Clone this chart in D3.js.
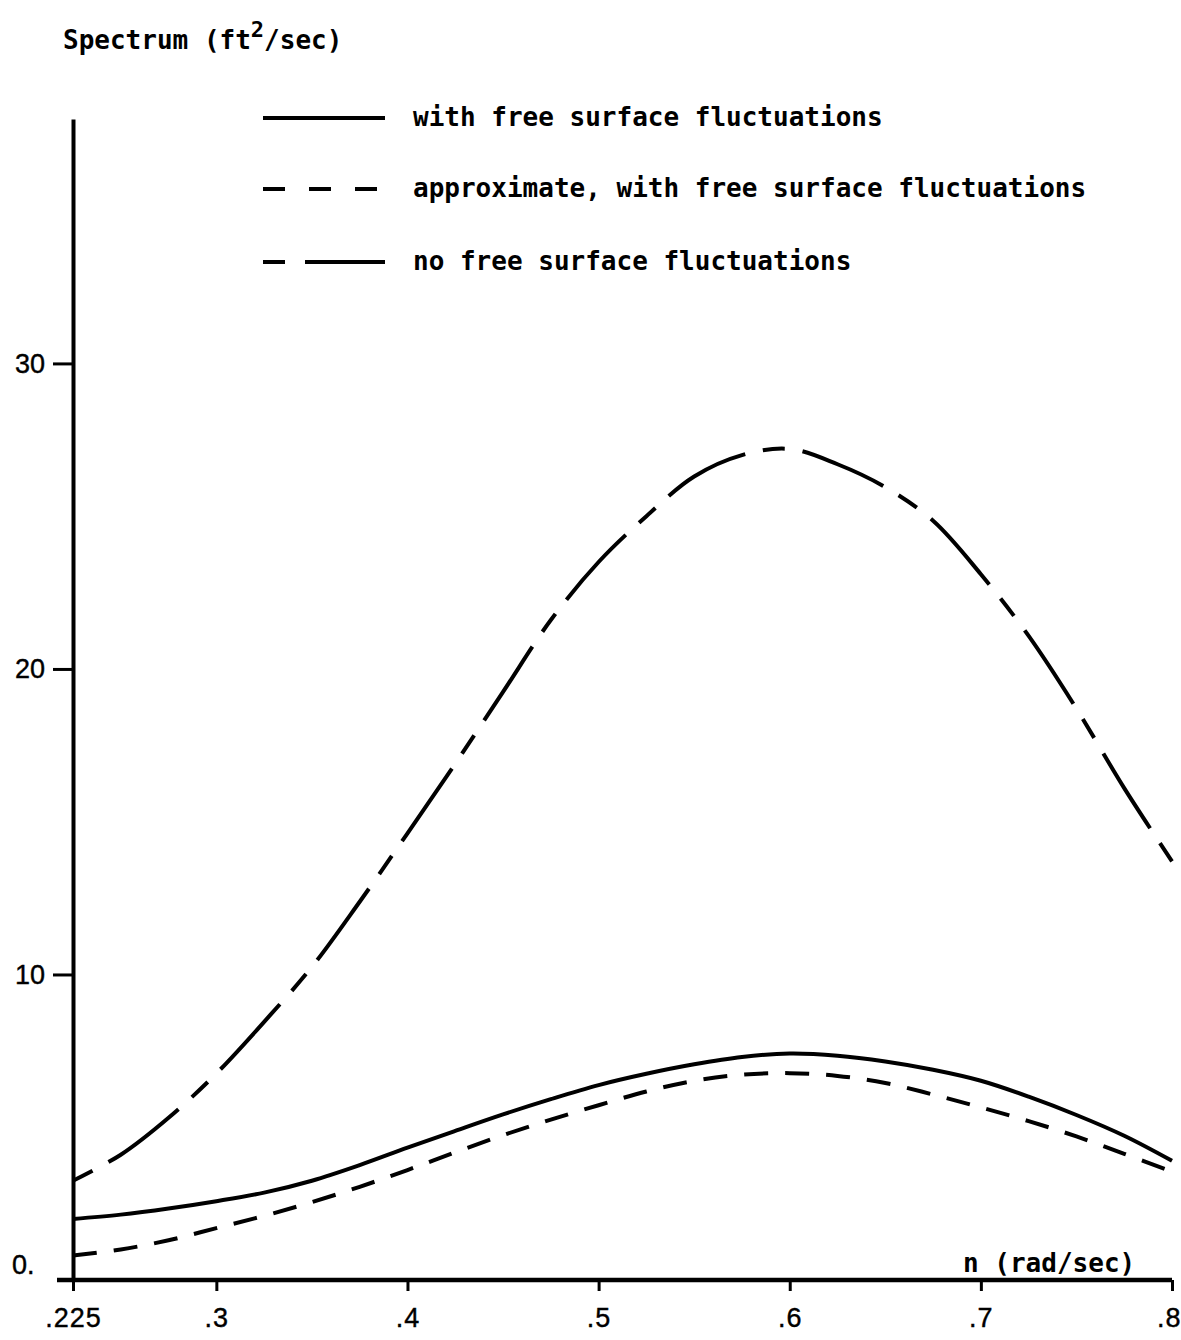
<!DOCTYPE html>
<html>
<head>
<meta charset="utf-8">
<script src="https://cdn.jsdelivr.net/npm/d3@7"></script>
<style>
  body { margin: 0; background: #fff; }
  svg { display: block; }
  .mono { font-family: "DejaVu Sans Mono", monospace; font-weight: bold; font-size: 26px; }
  .tick text, .num { font-family: "Liberation Sans", Arial, sans-serif; font-size: 27px; fill: #000; stroke: #000; stroke-width: 0.4px; }
</style>
</head>
<body>
<svg id="chart" width="1181" height="1340"></svg>
<script>
// frequency n (rad/sec)
const freqs = [0.225, 0.25, 0.275, 0.3, 0.325, 0.35, 0.375, 0.4, 0.425, 0.45, 0.475, 0.5,
               0.525, 0.55, 0.575, 0.6, 0.625, 0.65, 0.675, 0.7, 0.725, 0.75, 0.775, 0.8];

// spectrum, with free surface fluctuations
const withFree = [2.0, 2.14, 2.34, 2.58, 2.86, 3.25, 3.76, 4.33, 4.88, 5.42, 5.92, 6.38,
                  6.75, 7.06, 7.3, 7.41, 7.34, 7.15, 6.88, 6.52, 6.0, 5.4, 4.72, 3.9];

// approximate, with free surface fluctuations
const approxFree = [0.8, 1.0, 1.3, 1.7, 2.1, 2.55, 3.05, 3.6, 4.18, 4.74, 5.25, 5.72,
                    6.17, 6.52, 6.72, 6.77, 6.68, 6.45, 6.07, 5.65, 5.2, 4.7, 4.13, 3.55];

// no free surface fluctuations
const noFree = [3.25, 4.1, 5.31, 6.76, 8.45, 10.25, 12.38, 14.62, 16.9, 19.25, 21.6, 23.5,
                25.0, 26.3, 27.0, 27.2, 26.7, 25.95, 24.85, 23.1, 21.08, 18.7, 16.1, 13.7];

const xTicks = [0.225, 0.3, 0.4, 0.5, 0.6, 0.7, 0.8];
const xTickLabels = [".225", ".3", ".4", ".5", ".6", ".7", ".8"];
const yTicks = [10, 20, 30];

const legendLabels = ["with free surface fluctuations",
                      "approximate, with free surface fluctuations",
                      "no free surface fluctuations"];
const dashes = [null, "24,17", "22,18,88,18"];

const svg = d3.select("#chart");

const x = d3.scaleLinear().domain([0.225, 0.8]).range([73, 1172]);
const y = d3.scaleLinear().domain([0, 38]).range([1280, 119]);

// axes
const xAxis = d3.axisBottom(x)
  .tickValues(xTicks)
  .tickFormat((d, i) => xTickLabels[i])
  .tickSizeInner(11).tickSizeOuter(0).tickPadding(12);

const gx = svg.append("g").attr("transform", `translate(0,${y(0)})`).call(xAxis);
gx.select(".domain").attr("stroke-width", 4.5).attr("d", `M${x.range()[0] - 16},0H${x.range()[1]}`);
gx.selectAll(".tick line").attr("stroke-width", 3);
gx.selectAll(".tick text").attr("dy", "0.9em").attr("letter-spacing", 1);
// last label sits against the right edge, as in the original
gx.selectAll(".tick text").filter(d => d === 0.8).attr("text-anchor", "end").attr("dx", 9);

const yAxis = d3.axisLeft(y)
  .tickValues(yTicks)
  .tickSizeInner(20).tickSizeOuter(0).tickPadding(8);

const gy = svg.append("g").attr("transform", `translate(${x(0.225)},0)`).call(yAxis);
gy.select(".domain").attr("stroke-width", 4);
gy.selectAll(".tick line").attr("stroke-width", 3);

svg.append("text").attr("class", "num")
  .attr("x", 12).attr("y", y(0) - 6)
  .text("0.");

// curves
const line = d3.line()
  .x((d, i) => x(freqs[i]))
  .y(d => y(d))
  .curve(d3.curveCatmullRom.alpha(0.5));

[withFree, approxFree, noFree].forEach((s, k) => {
  svg.append("path")
    .datum(s)
    .attr("d", line)
    .attr("fill", "none")
    .attr("stroke", "#000")
    .attr("stroke-width", 4)
    .attr("stroke-dasharray", dashes[k]);
});

// titles
const title = svg.append("text").attr("class", "mono").attr("x", 63).attr("y", 49);
title.append("tspan").text("Spectrum (ft");
title.append("tspan").attr("dy", -12).style("font-size", "22px").text("2");
title.append("tspan").attr("dy", 12).text("/sec)");

svg.append("text").attr("class", "mono")
  .attr("x", 963).attr("y", 1272)
  .text("n (rad/sec)");

// legend
const legendY = [118, 189, 262];
const leg = svg.append("g");
legendLabels.forEach((lab, k) => {
  leg.append("line")
    .attr("x1", 263).attr("x2", 385)
    .attr("y1", legendY[k]).attr("y2", legendY[k])
    .attr("stroke", "#000").attr("stroke-width", 4)
    .attr("stroke-dasharray", k === 1 ? "22,24" : (k === 2 ? "22,20,80" : null));
  leg.append("text").attr("class", "mono")
    .attr("x", 413).attr("y", legendY[k] + 8)
    .text(lab);
});
</script>
</body>
</html>
